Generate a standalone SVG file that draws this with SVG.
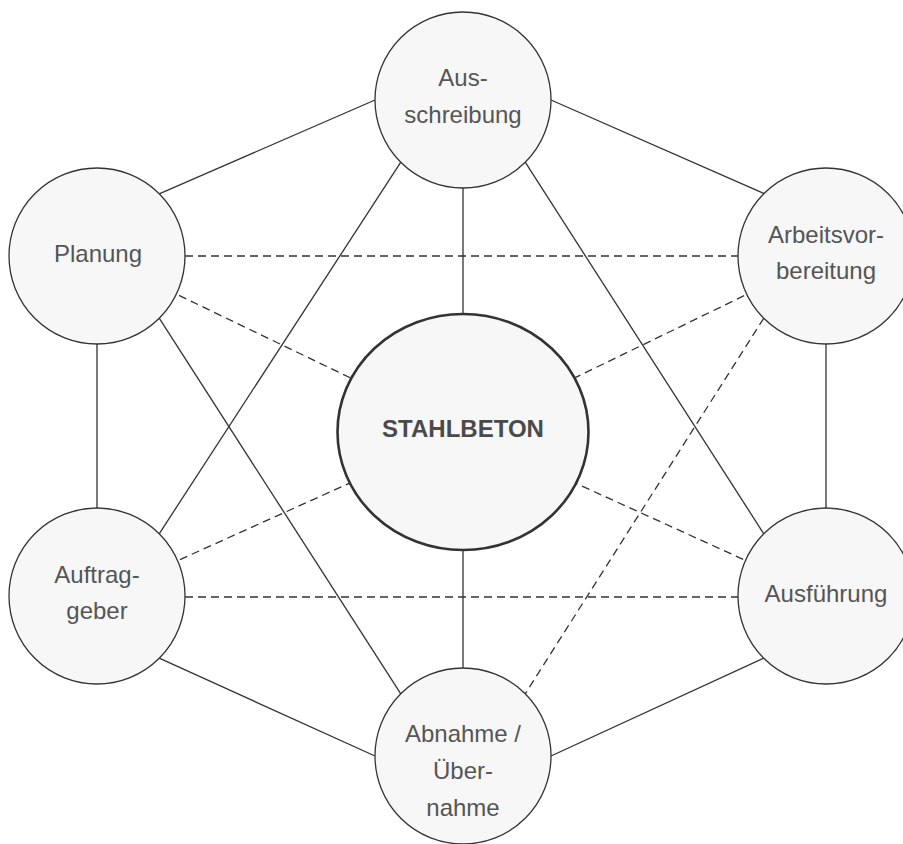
<svg xmlns="http://www.w3.org/2000/svg" width="903" height="844" viewBox="0 0 903 844">
  <style>
    .bg { fill: #ffffff; }
    .link { stroke: #333333; stroke-width: 1.3; fill: none; }
    .dash { stroke: #333333; stroke-width: 1.3; fill: none; stroke-dasharray: 8 5; }
    .node { fill: #f7f7f7; stroke: #333333; stroke-width: 1.3; }
    .core { fill: #f7f7f7; stroke: #333333; stroke-width: 2.6; }
    .label { font-family: "Liberation Sans", Arial, sans-serif; font-size: 24px; fill: #555555; text-anchor: middle; }
    .title { font-family: "Liberation Sans", Arial, sans-serif; font-size: 24px; font-weight: bold; fill: #4a4a4a; text-anchor: middle; }
  </style>
  <rect class="bg" x="0" y="0" width="903" height="844"/>

  <!-- connectors (drawn first, circles cover the ends) -->
  <g id="connectors">
    <!-- outer ring -->
    <line class="link" x1="375" y1="100" x2="159.2" y2="193.8"/>
    <line class="link" x1="551" y1="100" x2="764.8" y2="193.8"/>
    <line class="link" x1="97" y1="344" x2="97" y2="508"/>
    <line class="link" x1="826" y1="344" x2="826" y2="508"/>
    <line class="link" x1="159.2" y1="658.2" x2="375" y2="756"/>
    <line class="link" x1="763.8" y1="658.2" x2="551" y2="756"/>
    <!-- spokes to the core -->
    <line class="link" x1="463" y1="188" x2="463" y2="314"/>
    <line class="link" x1="463" y1="550" x2="463" y2="668"/>
    <line class="dash" x1="97" y1="256" x2="463" y2="432"/>
    <line class="dash" x1="826" y1="256" x2="463" y2="432"/>
    <line class="dash" x1="97" y1="597" x2="463" y2="432"/>
    <line class="dash" x1="826" y1="597" x2="463" y2="432"/>
    <!-- cross links -->
    <line class="dash" x1="185" y1="256" x2="738" y2="256"/>
    <line class="dash" x1="185" y1="597" x2="738" y2="597"/>
    <line class="link" x1="400.8" y1="162.2" x2="159.2" y2="533.8"/>
    <line class="link" x1="525.2" y1="162.2" x2="763.8" y2="533.8"/>
    <line class="link" x1="159.2" y1="318.2" x2="400.8" y2="693.8"/>
    <line class="dash" x1="763.8" y1="318.2" x2="525.2" y2="693.8"/>
  </g>

  <g id="ausschreibung">
    <circle class="node" cx="463" cy="100" r="88"/>
    <text class="label" x="463" y="85.5">Aus-</text>
    <text class="label" x="463" y="122.5">schreibung</text>
  </g>

  <g id="planung">
    <circle class="node" cx="97" cy="256" r="88"/>
    <text class="label" x="98" y="262">Planung</text>
  </g>

  <g id="arbeitsvorbereitung">
    <circle class="node" cx="826" cy="256" r="88"/>
    <text class="label" x="826" y="242.5">Arbeitsvor-</text>
    <text class="label" x="826" y="279">bereitung</text>
  </g>

  <g id="stahlbeton">
    <ellipse class="core" cx="463" cy="432" rx="125.5" ry="118"/>
    <text class="title" x="463" y="437">STAHLBETON</text>
  </g>

  <g id="auftraggeber">
    <circle class="node" cx="97" cy="596" r="88"/>
    <text class="label" x="97" y="582.5">Auftrag-</text>
    <text class="label" x="97" y="619">geber</text>
  </g>

  <g id="ausfuehrung">
    <circle class="node" cx="826" cy="596" r="88"/>
    <text class="label" x="826" y="602">Ausführung</text>
  </g>

  <g id="abnahme">
    <circle class="node" cx="463" cy="756" r="88"/>
    <text class="label" x="463" y="742">Abnahme /</text>
    <text class="label" x="463" y="779">Über-</text>
    <text class="label" x="463" y="816">nahme</text>
  </g>
</svg>
